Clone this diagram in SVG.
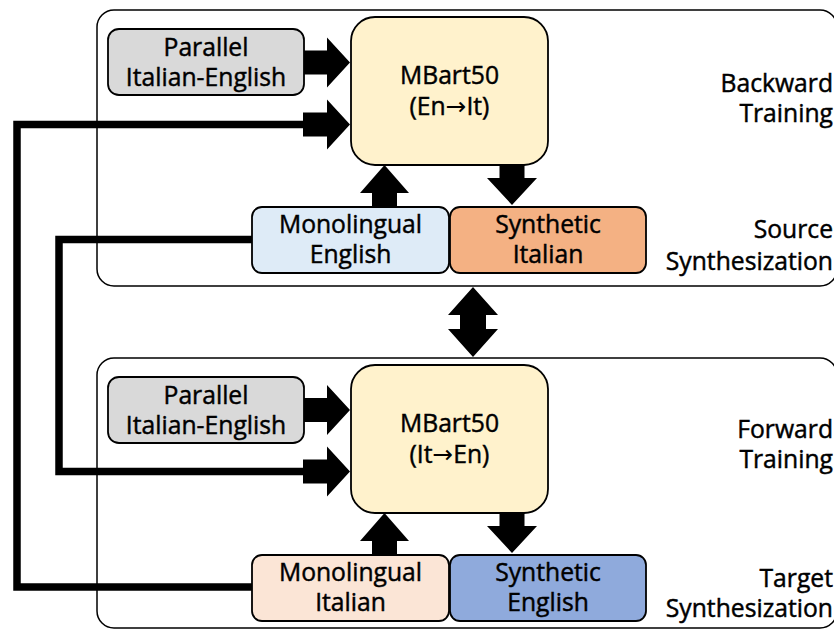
<svg xmlns="http://www.w3.org/2000/svg" xmlns:xlink="http://www.w3.org/1999/xlink" width="834" height="629" viewBox="0 0 834 629">
<style>
text{font-family:"Open Sans","Noto Sans","Liberation Sans",sans-serif;font-size:24.7px;fill:#000;stroke:#000;stroke-width:0.45px;}
.c{text-anchor:middle;}
.r{text-anchor:end;}
.ar{font-family:"DejaVu Sans",sans-serif;stroke-width:0;}
.frame{fill:#fff;stroke:#000;stroke-width:1.5;}
.node{stroke:#000;stroke-width:1.8;}
.line{fill:none;stroke:#000;stroke-width:7.5;stroke-linejoin:miter;}
.arr{fill:#000;}
</style>
<defs>
<path id="ra" d="M0,-12 H24 V-25 L47,0 L24,25 V12 H0 Z"/>
<path id="ua" d="M-12.5,0 V-14 H-24.5 L0,-42 L24.5,-14 H12.5 V0 Z"/>
<path id="da" d="M-12.5,0 V13 H-25 L0,40 L25,13 H12.5 V0 Z"/>
</defs>
<rect width="834" height="629" fill="#fff"/>
<g id="backward-frame"><rect class="frame" x="97" y="10" width="740" height="276" rx="17"/></g>
<g id="forward-frame"><rect class="frame" x="97" y="358" width="740" height="270" rx="17"/></g>

<g id="connectors">
<polyline class="line" points="252,587 17,587 17,124.5 306,124.5"/>
<polyline class="line" points="252,239.5 59,239.5 59,471.5 306,471.5"/>
<use class="arr" href="#ra" x="303" y="62.5"/>
<use class="arr" href="#ra" x="303" y="124.5"/>
<use class="arr" href="#ra" x="303" y="410"/>
<use class="arr" href="#ra" x="303" y="471.5"/>
<use class="arr" href="#ua" x="384.5" y="207"/>
<use class="arr" href="#da" x="512" y="165"/>
<use class="arr" href="#ua" x="384.5" y="555"/>
<use class="arr" href="#da" x="512" y="513"/>
<path class="arr" d="M473,287 L498,315 H486 V329 H498 L473,357 L448,329 H460 V315 H448 Z"/>
</g>

<g id="parallel-top">
<rect class="node" x="108" y="29" width="196" height="66" rx="11" fill="#d9d9d9"/>
<text class="c" x="206" y="56">Parallel</text>
<text class="c" x="206" y="86">Italian-English</text>
</g>
<g id="mbart-top">
<rect class="node" x="351" y="17" width="197" height="148" rx="24" fill="#fff2cc"/>
<text class="c" x="449.5" y="84">MBart50</text>
<text class="c" x="449.5" y="115">(En<tspan class="ar">→</tspan>It)</text>
</g>
<g id="mono-english">
<rect class="node" x="252" y="207" width="197" height="66" rx="10" fill="#deebf7"/>
<text class="c" x="350.5" y="233">Monolingual</text>
<text class="c" x="350.5" y="263">English</text>
</g>
<g id="synthetic-italian">
<rect class="node" x="450" y="207" width="196" height="66" rx="10" fill="#f4b183"/>
<text class="c" x="548" y="233">Synthetic</text>
<text class="c" x="548" y="263">Italian</text>
</g>
<g id="label-backward">
<text class="r" x="833" y="92">Backward</text>
<text class="r" x="833" y="122">Training</text>
</g>
<g id="label-source">
<text class="r" x="833" y="238">Source</text>
<text class="r" x="833" y="270">Synthesization</text>
</g>

<g id="parallel-bottom">
<rect class="node" x="108" y="377" width="196" height="66" rx="11" fill="#d9d9d9"/>
<text class="c" x="206" y="404">Parallel</text>
<text class="c" x="206" y="434">Italian-English</text>
</g>
<g id="mbart-bottom">
<rect class="node" x="351" y="365" width="197" height="148" rx="24" fill="#fff2cc"/>
<text class="c" x="449.5" y="432">MBart50</text>
<text class="c" x="449.5" y="463">(It<tspan class="ar">→</tspan>En)</text>
</g>
<g id="mono-italian">
<rect class="node" x="252" y="555" width="197" height="66" rx="10" fill="#fbe5d6"/>
<text class="c" x="350.5" y="581">Monolingual</text>
<text class="c" x="350.5" y="611">Italian</text>
</g>
<g id="synthetic-english">
<rect class="node" x="450" y="555" width="196" height="66" rx="10" fill="#8faadc"/>
<text class="c" x="548" y="581">Synthetic</text>
<text class="c" x="548" y="611">English</text>
</g>
<g id="label-forward">
<text class="r" x="833" y="438">Forward</text>
<text class="r" x="833" y="468">Training</text>
</g>
<g id="label-target">
<text class="r" x="833" y="587">Target</text>
<text class="r" x="833" y="617">Synthesization</text>
</g>
</svg>
